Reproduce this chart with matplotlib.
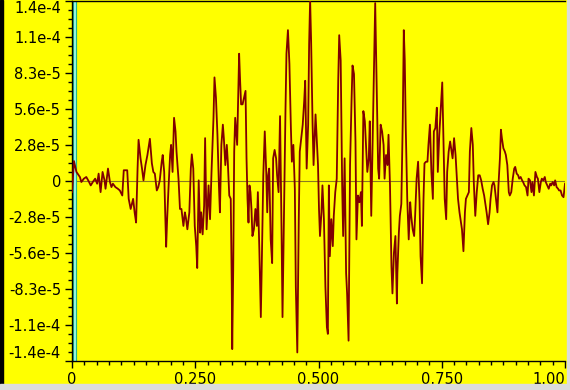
import numpy as np
import matplotlib
matplotlib.use("Agg")
import matplotlib.pyplot as plt
from matplotlib.ticker import MultipleLocator
from matplotlib.patches import Rectangle

# trace: time (0..1) and amplitude in units of 1e-6
time_s = [
    0.000, 0.004, 0.009, 0.016, 0.019, 0.024, 0.029, 0.034, 0.038, 0.043,
    0.047, 0.051, 0.054, 0.058, 0.062, 0.066, 0.068, 0.073, 0.077, 0.080,
    0.083, 0.088, 0.093, 0.097, 0.102, 0.105, 0.112, 0.115, 0.119, 0.124,
    0.127, 0.130, 0.133, 0.135, 0.139, 0.142, 0.145, 0.149, 0.153, 0.158,
    0.162, 0.165, 0.168, 0.172, 0.175, 0.178, 0.182, 0.184, 0.187, 0.189,
    0.191, 0.193, 0.196, 0.199, 0.201, 0.204, 0.207, 0.210, 0.212, 0.216,
    0.219, 0.222, 0.226, 0.229, 0.231, 0.234, 0.238, 0.241, 0.243, 0.246,
    0.249, 0.252, 0.254, 0.257, 0.260, 0.262, 0.265, 0.268, 0.270, 0.273,
    0.277, 0.280, 0.283, 0.287, 0.289, 0.292, 0.295, 0.298, 0.300, 0.303,
    0.306, 0.308, 0.311, 0.314, 0.316, 0.319, 0.322, 0.324, 0.325,
    0.327, 0.329, 0.331, 0.333, 0.335, 0.337, 0.339, 0.341, 0.343, 0.346,
    0.349, 0.352, 0.354, 0.356, 0.358, 0.360, 0.362, 0.364, 0.366, 0.369,
    0.372, 0.375, 0.377, 0.380, 0.383, 0.385, 0.388, 0.391, 0.394, 0.396,
    0.398, 0.400, 0.403, 0.406, 0.408, 0.411, 0.414, 0.416, 0.419, 0.422,
    0.425, 0.427, 0.430, 0.433, 0.435, 0.438, 0.441, 0.444, 0.446, 0.449,
    0.452, 0.454, 0.457, 0.460, 0.462, 0.465, 0.468, 0.471, 0.473, 0.476,
    0.479, 0.481, 0.483, 0.485, 0.488, 0.490,
    0.494, 0.496, 0.499, 0.501, 0.503, 0.506, 0.508, 0.511, 0.514, 0.517,
    0.519, 0.521, 0.523, 0.526, 0.529, 0.531, 0.534, 0.537, 0.540, 0.542,
    0.545, 0.548, 0.550, 0.553, 0.556, 0.558, 0.561, 0.564, 0.567, 0.569,
    0.572, 0.575, 0.577, 0.580, 0.583, 0.586, 0.588, 0.591, 0.594, 0.596,
    0.599, 0.602, 0.604, 0.607, 0.610, 0.613, 0.615, 0.618, 0.621, 0.623,
    0.626, 0.629, 0.632, 0.634, 0.637, 0.640, 0.642, 0.645, 0.648, 0.650,
    0.653, 0.656, 0.659,
    0.660, 0.663, 0.665, 0.668, 0.671, 0.673, 0.675, 0.677, 0.680, 0.683,
    0.686, 0.688, 0.691, 0.694, 0.696, 0.699, 0.702, 0.705, 0.707, 0.710,
    0.713, 0.715, 0.718, 0.721, 0.723, 0.726, 0.729, 0.732, 0.734, 0.737,
    0.740, 0.742, 0.745, 0.748, 0.751, 0.753, 0.756, 0.759, 0.761, 0.764,
    0.767, 0.769, 0.772, 0.775, 0.778, 0.780, 0.783, 0.786, 0.788, 0.791,
    0.794, 0.797, 0.799, 0.802, 0.805, 0.807, 0.810, 0.813, 0.815, 0.818,
    0.821, 0.824,
    0.827, 0.830, 0.833, 0.836, 0.838, 0.841, 0.844, 0.847, 0.849, 0.852,
    0.855, 0.857, 0.860, 0.863, 0.865, 0.868, 0.870, 0.872, 0.875, 0.878,
    0.880, 0.883, 0.886, 0.888, 0.891, 0.894, 0.897, 0.899, 0.902, 0.905,
    0.907, 0.910, 0.913, 0.915, 0.918, 0.921, 0.924, 0.926, 0.929, 0.932,
    0.934, 0.937, 0.940, 0.943, 0.945, 0.948, 0.951, 0.953, 0.956, 0.959,
    0.961, 0.964, 0.967, 0.970, 0.972, 0.975, 0.978, 0.980, 0.983, 0.986,
    0.988, 0.991, 0.994, 0.997, 0.999, 1.000,
]
amp_u = [
    -8.6, 15.4, 7.0, 3.1, -0.8, 1.8, 3.1, -0.3, -3.4, -0.3,
    1.8, -2.1, 5.7, -8.6, 7.0, 0.5, -6.0, 9.6, -0.8, -4.7,
    -2.1, -4.7, -6.0, -7.3, -11.2, 8.3, 8.3, -13.8, -21.6, -13.8,
    -24.2, -32.1, 9.6, 31.8, 17.5, 9.6, 0.5, 12.3, 20.1, 32.6,
    13.6, 7.0, 5.7, -7.3, -4.7, 0.5, 14.9, 20.1, 7.0, -24.2,
    -50.8, -29.2, -3.4, 20.1, 27.9, 7.0, 48.8, 38.3, 22.7, 1.8,
    -21.6, -21.6, -34.7, -24.2, -28.2, -37.3, -24.2, 9.6, 20.6, 9.6,
    -34.7, -50.3, -67.2, 0.5, -39.9, -24.2, -41.2, -19.0, 33.1, -37.3,
    -3.4, -29.5, 7.0, 48.8, 80.0, 64.4, 35.7, -3.4, -24.2, 27.9,
    43.5, 33.1, 12.3, 27.9, 14.9, -11.2, -13.8, -79.0, -129.8,
    -68.6, 22.7, 48.8, 38.3, 27.9, 64.4, 98.3, 77.4, 59.2, 59.2,
    64.4, 69.6, 17.5, -13.8, -32.1, -3.4, -8.6, -21.6, -42.5, -37.3,
    -21.6, -34.7, -8.6, -52.9, -105.1, -63.4, 4.4, 38.3, 7.0, -24.2,
    4.4, 9.6, -45.1, -63.4, 17.5, 24.0, 17.5, 4.4, -8.6, 50.1,
    -37.3, -105.1, -24.2, 54.0, 98.3, 116.5, 90.5, 40.9, 14.9, 27.9,
    -6.0, -81.6, -132.4, -29.5, 22.7, 33.1, 43.5, 61.8, 77.4, 9.6,
    43.5, 106.1, 140.0, 108.7, 43.5, 12.3,
    51.4, 35.7, 12.3, -21.6, -42.5, -24.2, -3.4, -29.5, -81.6, -112.9,
    -118.1, -3.4, -58.1, -29.5, -50.3, -26.9, -8.6, 1.8, 77.4, 112.6,
    93.1, -3.4, -42.5, 17.5, -71.2, -86.8, -123.3, 12.3, 61.8, 89.2,
    82.6, 30.5, -45.1, -11.2, -16.4, -8.6, -34.7, 54.0, 46.1, 30.5,
    7.0, 17.5, 46.1, -26.9, 33.1, 95.7, 137.4, 74.8, 9.6, 1.8,
    43.5, 38.3, 27.9, 1.8, 20.1, 12.3, 35.7, -3.4, -66.0, -86.8,
    -55.5, -42.5, -94.6,
    -71.2, -39.9, -26.9, -17.7, 48.8, 116.5, 93.1, 40.9, -13.8, -45.1,
    -16.4, -26.9, -37.3, -42.5, -26.9, 1.8, 14.9, -16.4, -58.1, -79.0,
    -13.8, 13.6, 14.9, 14.9, 27.9, 43.5, 7.0, -13.8, 38.3, 40.9,
    56.6, 7.0, 35.7, 56.6, 76.1, 40.9, -13.8, -29.5, 7.0, 22.7,
    30.5, 25.3, 17.5, 33.1, 20.1, 7.0, -13.8, -24.2, -29.5, -37.3,
    -54.2, -24.2, -13.8, -11.2, -8.6, 22.7, 40.9, 27.9, -0.8, -26.9,
    -8.6, 4.4,
    4.4, 0.5, -6.0, -11.2, -16.4, -24.2, -33.4, -24.2, -13.8, -3.4,
    -0.8, -3.4, -13.8, -24.2, -3.4, 17.5, 39.6, 33.1, 25.3, 22.7,
    20.1, 12.3, -8.6, -11.2, -8.6, 1.8, 9.6, 10.9, 5.7, 4.4,
    1.8, 3.1, 0.5, -0.8, -3.4, -4.7, -11.2, 1.8, 0.5, -8.6,
    -0.8, -11.2, 7.0, 3.1, 1.8, -8.6, -0.8, 1.8, 0.5, 3.1,
    -0.8, -3.4, -6.0, -2.1, -3.4, -0.8, -3.4, 0.5, -4.7, -6.0,
    -7.3, -7.3, -11.2, -12.5, -6.0, -2.1,
]

y_max = 1.39e-4
y_labels = ['-1.4e-4', '-1.1e-4', '-8.3e-5', '-5.6e-5', '-2.8e-5', '0',
            '2.8e-5', '5.6e-5', '8.3e-5', '1.1e-4', '1.4e-4']
x_ticks = [0, 0.25, 0.5, 0.75, 1.0]
x_labels = ['0', '0.250', '0.500', '0.750', '1.00']
cursor_t = 0.006

plt.rcParams['font.family'] = ['DejaVu Sans']

W, H = 570, 390
fig = plt.figure(figsize=(W / 100, H / 100), dpi=100, facecolor='#ffff00')

# window edges: black on the left, grey on right/bottom
fig.patches.append(Rectangle((0, 0), 2.5 / W, 1, transform=fig.transFigure,
                             color='black', zorder=0))
fig.patches.append(Rectangle((567 / W, 0), 3 / W, 1, transform=fig.transFigure,
                             color='#dcdcdc', zorder=0))
fig.patches.append(Rectangle((0, 0), 1, 6 / H, transform=fig.transFigure,
                             color='#dcdcdc', zorder=0))

ax = fig.add_axes([72 / W, 1 - 361 / H, 493 / W, 360 / H])
ax.set_facecolor('#ffff00')

ax.axhline(0, color='#8a7a20', lw=0.8, zorder=1)
ax.axvline(cursor_t, color='#20b890', lw=3, zorder=2)
ax.axvline(cursor_t, color='#b0fff0', lw=1.2, zorder=2)
ax.plot(time_s, np.array(amp_u) * 1e-6, color='#800000', lw=1.3, zorder=3)

ax.set_xlim(0, 1)
ax.set_ylim(-y_max, y_max)

ax.set_yticks(np.linspace(-y_max, y_max, len(y_labels)))
ax.set_yticklabels(y_labels)
ax.yaxis.set_minor_locator(MultipleLocator(2 * y_max / 40))
ax.set_xticks(x_ticks)
ax.set_xticklabels(x_labels)
ax.xaxis.set_minor_locator(MultipleLocator(0.025))

ax.tick_params(which='major', direction='out', length=5, width=1,
               labelsize=10.5, colors='black', pad=3)
ax.tick_params(which='minor', direction='out', length=3, width=1)

ylabs = ax.get_yticklabels()
ylabs[-1].set_verticalalignment('top')
ylabs[0].set_verticalalignment('bottom')
ax.get_xticklabels()[-1].set_horizontalalignment('right')

ax.spines['right'].set_visible(False)
for s in ['left', 'bottom', 'top']:
    ax.spines[s].set_color('black')
    ax.spines[s].set_linewidth(1)

fig.savefig('out.png', dpi=100, facecolor=fig.get_facecolor())
